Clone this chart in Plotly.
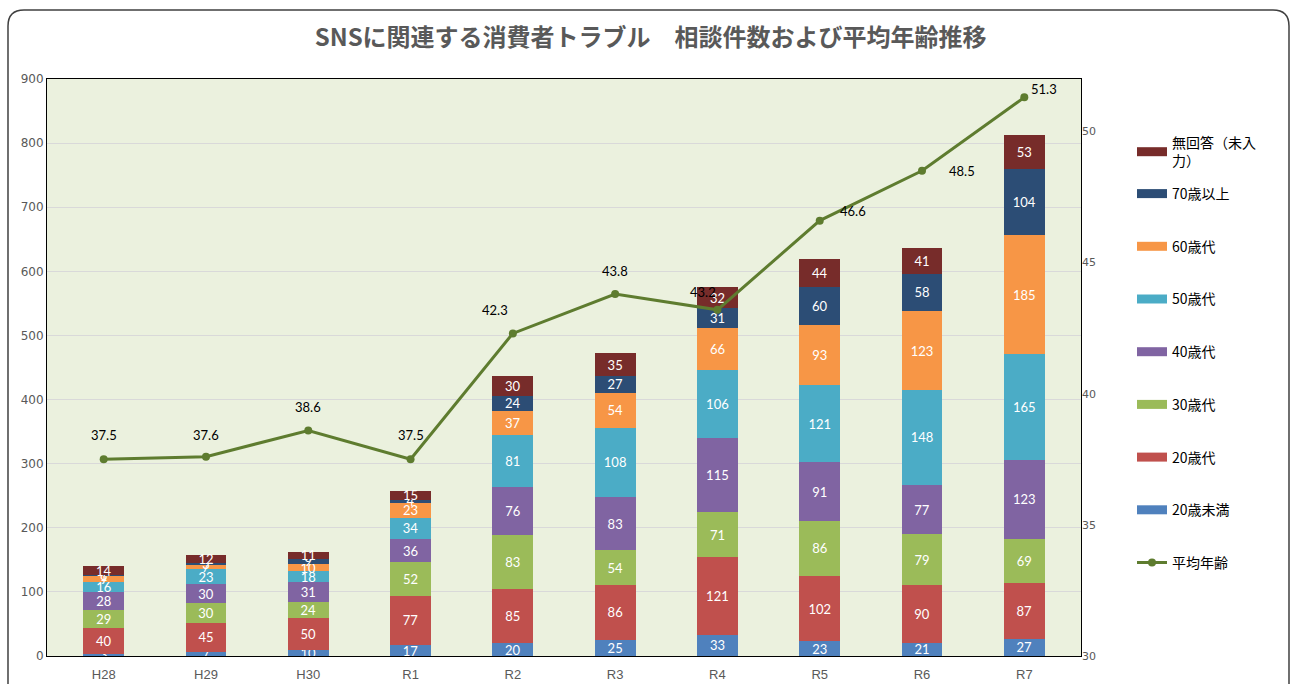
import plotly.graph_objects as go

# ---- data ----
categories = ["H28", "H29", "H30", "R1", "R2", "R3", "R4", "R5", "R6", "R7"]
under20 = [3, 7, 10, 17, 20, 25, 33, 23, 21, 27]
age20s = [40, 45, 50, 77, 85, 86, 121, 102, 90, 87]
age30s = [29, 30, 24, 52, 83, 54, 71, 86, 79, 69]
age40s = [28, 30, 31, 36, 76, 83, 115, 91, 77, 123]
age50s = [16, 23, 18, 34, 81, 108, 106, 121, 148, 165]
age60s = [9, 7, 10, 23, 37, 54, 66, 93, 123, 185]
age70plus = [1, 3, 9, 4, 24, 27, 31, 60, 58, 104]
no_answer = [14, 12, 11, 15, 30, 35, 32, 44, 41, 53]
avg_age = [37.5, 37.6, 38.6, 37.5, 42.3, 43.8, 43.2, 46.6, 48.5, 51.3]

series = [
    ("20歳未満", under20, "#4f81bd"),
    ("20歳代", age20s, "#c0504d"),
    ("30歳代", age30s, "#9bbb59"),
    ("40歳代", age40s, "#8064a2"),
    ("50歳代", age50s, "#4bacc6"),
    ("60歳代", age60s, "#f79646"),
    ("70歳以上", age70plus, "#2c4d75"),
    ("無回答（未入<br>力）", no_answer, "#772c2a"),
]
line_color = "#5e7c2f"

# label offsets (px) for average-age labels
label_shift = [(0, 24), (0, 22), (0, 23), (0, 24), (-18, 23), (0, 23), (-14, 18), (33, 10), (40, 0), (20, 8)]

W, H = 1291, 684
L, R, T, B = 47, 210, 79, 28
pw, ph = W - L - R, H - T - B

fig = go.Figure()
n = len(series)
for i, (name, vals, col) in enumerate(series):
    fig.add_trace(go.Bar(
        x=categories, y=vals, name=name, marker=dict(color=col, line=dict(width=0)),
        texttemplate="%{y}", textposition="inside", insidetextanchor="middle",
        constraintext="none", textangle=0,
        textfont=dict(color="white", size=13, family="Lato"),
        showlegend=False, cliponaxis=False,
    ))

fig.add_trace(go.Scatter(
    x=categories, y=avg_age, name="平均年齢", yaxis="y2", mode="lines+markers",
    line=dict(color=line_color, width=3), marker=dict(size=8, color=line_color),
    showlegend=False, cliponaxis=False,
))

# legend entries (wide colour bars like the reference)
for i, (name, vals, col) in enumerate(series):
    fig.add_trace(go.Scatter(
        x=[None], y=[None], name=name, mode="lines",
        line=dict(color=col, width=9), legendgroup=name, legendrank=n - i,
        legend="legend2" if i == n - 1 else "legend",
    ))
fig.add_trace(go.Scatter(
    x=[None], y=[None], name="平均年齢", mode="lines+markers", yaxis="y2",
    line=dict(color=line_color, width=3), marker=dict(size=8, color=line_color),
    legendgroup="avg", legendrank=100, legend="legend",
))

for c, v, (dx, dy) in zip(categories, avg_age, label_shift):
    fig.add_annotation(x=c, y=v, yref="y2", text=f"{v}", showarrow=False,
                       xshift=dx, yshift=dy, font=dict(size=13, color="#000", family="Lato"))

def px2paper(x, y):
    return (x - L) / pw, (H - B - y) / ph

# rounded frame
x0, y0, x1, y1, r = 8, 10, 1289, 720, 16
def P(x, y):
    a, b = px2paper(x, y)
    return f"{a:.5f},{b:.5f}"
path = (f"M {P(x0 + r, y0)} L {P(x1 - r, y0)} Q {P(x1, y0)} {P(x1, y0 + r)} "
        f"L {P(x1, y1 - r)} Q {P(x1, y1)} {P(x1 - r, y1)} L {P(x0 + r, y1)} "
        f"Q {P(x0, y1)} {P(x0, y1 - r)} L {P(x0, y0 + r)} Q {P(x0, y0)} {P(x0 + r, y0)} Z")
fig.add_shape(type="path", path=path, xref="paper", yref="paper",
              line=dict(color="#404040", width=1.5), layer="below")

lx, _ = px2paper(1132, 0)
_, ly1 = px2paper(0, 178)
_, ly2 = px2paper(0, 127)

fig.update_layout(
    width=W, height=H,
    margin=dict(l=L, r=R, t=T, b=B, autoexpand=False),
    paper_bgcolor="white", plot_bgcolor="#ebf1de",
    barmode="stack", bargap=0.6,
    font=dict(family="Noto Sans CJK JP", color="#595959"),
    title=dict(text="<b>SNSに関連する消費者トラブル　相談件数および平均年齢推移</b>",
               x=0.504, xanchor="center", y=1 - 38 / H, yanchor="middle", yref="container",
               font=dict(size=24, color="#595959", family="Noto Sans CJK JP")),
    xaxis=dict(showline=True, linecolor="#000", linewidth=1, mirror=True,
               tickfont=dict(size=13, color="#595959", family="Liberation Sans Narrow, Liberation Sans"),
               ticks="", ticklabelstandoff=6),
    yaxis=dict(range=[0, 900], dtick=100, showgrid=True, gridcolor="#d9d9d9",
               showline=True, linecolor="#000", linewidth=1, mirror=True, zeroline=False,
               tickfont=dict(size=12, color="#595959", family="DejaVu Sans")),
    yaxis2=dict(range=[30, 52], tickvals=[30, 35, 40, 45, 50], overlaying="y", side="right",
                showgrid=False, zeroline=False, showline=False,
                tickfont=dict(size=11, color="#595959", family="DejaVu Sans")),
    legend=dict(x=lx, y=ly1, xanchor="left", yanchor="top", tracegroupgap=31.5,
                font=dict(size=14, color="#000", family="Noto Sans CJK JP"),
                bgcolor="rgba(0,0,0,0)", itemclick=False),
    legend2=dict(x=lx, y=ly2, xanchor="left", yanchor="top",
                 font=dict(size=14, color="#000", family="Noto Sans CJK JP"),
                 bgcolor="rgba(0,0,0,0)"),
    showlegend=True,
)

fig.write_html("out.html", config={"displayModeBar": False},
               post_script="document.body.style.margin='0px';")
